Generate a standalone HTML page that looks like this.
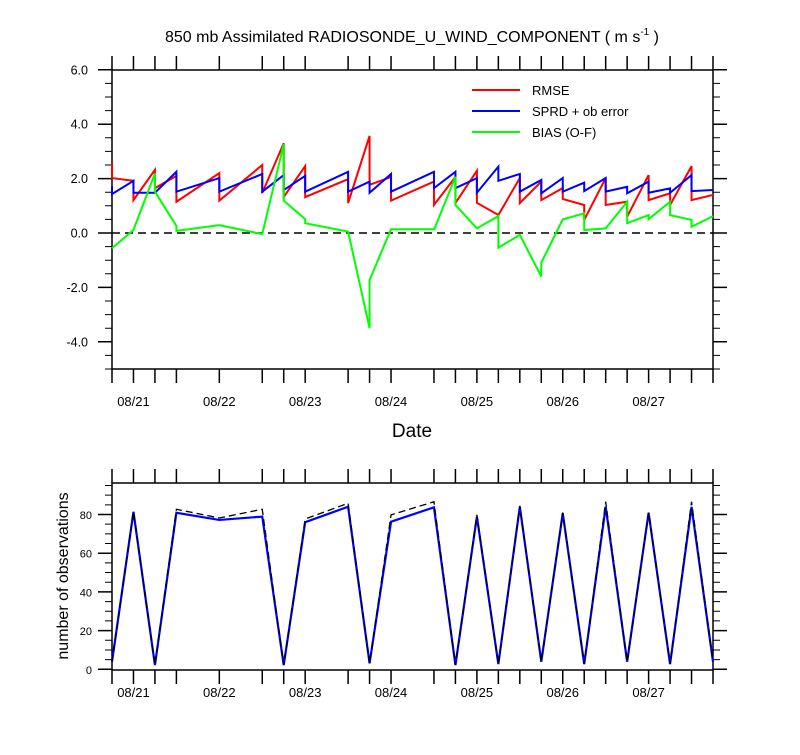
<!DOCTYPE html>
<html><head><meta charset="utf-8"><style>
body{margin:0;background:#fff;}
svg text{font-family:"Liberation Sans",sans-serif;}
</style></head><body>
<svg id="chart" width="800" height="750" xmlns="http://www.w3.org/2000/svg">
<text x="412" y="42" font-size="16" text-anchor="middle">850 mb Assimilated RADIOSONDE_U_WIND_COMPONENT ( m s<tspan font-size="10" dy="-7">-1</tspan><tspan dy="7"> )</tspan></text>
<g id="topPanel"></g>
<g id="botPanel"></g>
<text x="412" y="437" font-size="19" text-anchor="middle">Date</text>
<text transform="translate(68,576) rotate(-90)" font-size="16" text-anchor="middle">number of observations</text>
<g>
<line x1="472" y1="90" x2="520" y2="90" stroke="#f00" stroke-width="2"/><text x="532" y="95" font-size="13">RMSE</text>
<line x1="472" y1="111" x2="520" y2="111" stroke="#00f" stroke-width="2"/><text x="532" y="116" font-size="13">SPRD + ob error</text>
<line x1="472" y1="132" x2="520" y2="132" stroke="#0f0" stroke-width="2"/><text x="532" y="137" font-size="13">BIAS (O-F)</text>
</g>
</svg>
<script>
const times=[0,1,2,3,5,7,8,9,11,12,13,15,16,17,18,19,20,21,22,23,24,25,26,27,28];
const rmseA=[2.57,1.92,2.32,2.1,2.2,2.5,3.3,2.46,1.98,3.57,2.06,1.89,2.06,2.29,0.66,2.02,1.89,1.65,1.03,2.02,1.15,2.13,1.46,2.46,1.4];
const rmseB=[2.02,1.21,1.65,1.15,1.19,1.47,1.32,1.32,1.1,1.77,1.19,1.03,1.1,1.11,0.66,1.1,1.21,1.25,0.48,1.03,0.6,1.21,1.03,1.21,1.4];
const sprdA=[1.72,1.92,1.48,2.25,2.02,2.17,2.13,2.1,2.25,1.89,2.17,2.25,2.25,2.02,2.44,2.17,1.95,2.02,1.85,2.02,1.7,1.89,1.64,2.13,1.58];
const sprdB=[1.43,1.48,1.48,1.52,1.52,1.52,1.58,1.52,1.52,1.48,1.52,1.65,1.65,1.48,1.92,1.52,1.46,1.52,1.54,1.52,1.46,1.48,1.48,1.54,1.58];
const biasA=[-0.56,0.11,2.19,0.26,0.29,-0.04,3.27,0.51,0.05,-3.5,0.14,0.14,2.07,0.17,0.62,-0.07,-1.6,0.5,0.72,0.17,1.15,0.66,1.15,0.48,0.62];
const biasB=[-0.56,0.11,1.52,0.08,0.29,-0.04,1.19,0.36,0.05,-1.73,0.14,0.11,1.03,0.17,-0.54,-0.07,-1.09,0.5,0.11,0.17,0.36,0.51,0.66,0.23,0.62];
const obsUsed=[3.9,81.4,2.2,80.9,77.2,78.9,2.2,76,84,3.1,76.3,83.7,2.2,78.9,2.7,84,3.9,80.6,2.7,84,3.9,80.9,2.7,84,3.9];
const obsTotal=[3.9,81.4,2.2,82.7,78.2,82.7,2.2,77.7,85.8,3.1,79.8,86.6,2.2,79.8,2.7,84.5,3.9,81,2.7,86.6,3.9,81,2.7,86.6,3.9];
const dateTicks=[1,5,9,13,17,21,25];
const dateLabels=["08/21","08/22","08/23","08/24","08/25","08/26","08/27"];
const topYTicks=[6,4,2,0,-2,-4];
const topYLabels=["6.0","4.0","2.0","0.0","-2.0","-4.0"];
const botYTicks=[0,20,40,60,80];

const NS="http://www.w3.org/2000/svg";
const X0=112,X1=713,TMAX=28;
const x=t=>X0+t*(X1-X0)/TMAX;
const yTop=v=>233-v*27.2;
const yBot=v=>669.3-v*1.935;
function mk(p,tag,at){const e=document.createElementNS(NS,tag);for(const k in at)e.setAttribute(k,at[k]);p.appendChild(e);return e;}
function frame(g,yT,yB,ys,minStep,ymin,ymax,majors,labels,labX,labFs,dateOff){
  const fr=mk(g,'rect',{x:X0,y:yT,width:X1-X0,height:yB-yT,fill:'none',stroke:'#000','stroke-width':1.5});
  
  
  times.forEach(t=>{
    const tk=mk(g,'path',{d:`M${x(t)},${yT}v-14M${x(t)},${yB}v14`,stroke:'#000','stroke-width':1.5});
    
    
  });
  for(let v=ymin;v<=ymax+1e-9;v+=minStep){
    const yy=ys(v);
    if(yy<yT-0.5||yy>yB+0.5)continue;
    const mj=majors.some(m=>Math.abs(m-v)<1e-6);
    const L=mj?14:7;
    mk(g,'path',{d:`M${X0},${yy}h-${L}M${X1},${yy}h${L}`,stroke:'#000','stroke-width':mj?1.5:1});
  }
  majors.forEach((m,i)=>{
    const t=mk(g,'text',{x:labX,y:ys(m)+4.5,'font-size':labFs,'text-anchor':'end'});
    t.textContent=labels[i];
    
    
  });
  dateTicks.forEach((d,i)=>{
    const t=mk(g,'text',{x:x(d),y:yB+dateOff,'font-size':13,'text-anchor':'middle'});
    t.textContent=dateLabels[i];
    
    
  });
}
function pathAB(A,B,ys){let d='';times.forEach((t,i)=>{d+=(i?'L':'M')+x(t)+','+ys(A[i])+'L'+x(t)+','+ys(B[i]);});return d;}
function pathS(V,ys){return times.map((t,i)=>(i?'L':'M')+x(t)+','+ys(V[i])).join('');}
const topG=document.getElementById('topPanel');
frame(topG,70,369,yTop,0.5,-5,6,topYTicks,topYLabels,88,12.5,37);
const zl=mk(topG,'line',{x1:X0,x2:X1,y1:yTop(0),y2:yTop(0),stroke:'#000','stroke-width':1.5,'stroke-dasharray':'8,5'});


const pr=mk(topG,'path',{d:pathAB(rmseA,rmseB,yTop),fill:'none',stroke:'#f00','stroke-width':2});


const pb=mk(topG,'path',{d:pathAB(sprdA,sprdB,yTop),fill:'none',stroke:'#00f','stroke-width':2});


const pg=mk(topG,'path',{d:pathAB(biasA,biasB,yTop),fill:'none',stroke:'#0f0','stroke-width':2});


const botG=document.getElementById('botPanel');
frame(botG,483,670,yBot,5,0,95,botYTicks,botYTicks.map(String),92,11,27);
const pu=mk(botG,'path',{d:pathS(obsUsed,yBot),fill:'none',stroke:'#00f','stroke-width':2.2});


const pt=mk(botG,'path',{d:pathS(obsTotal,yBot),fill:'none',stroke:'#000','stroke-width':1.3,'stroke-dasharray':'7,4'});


</script>
</body></html>
